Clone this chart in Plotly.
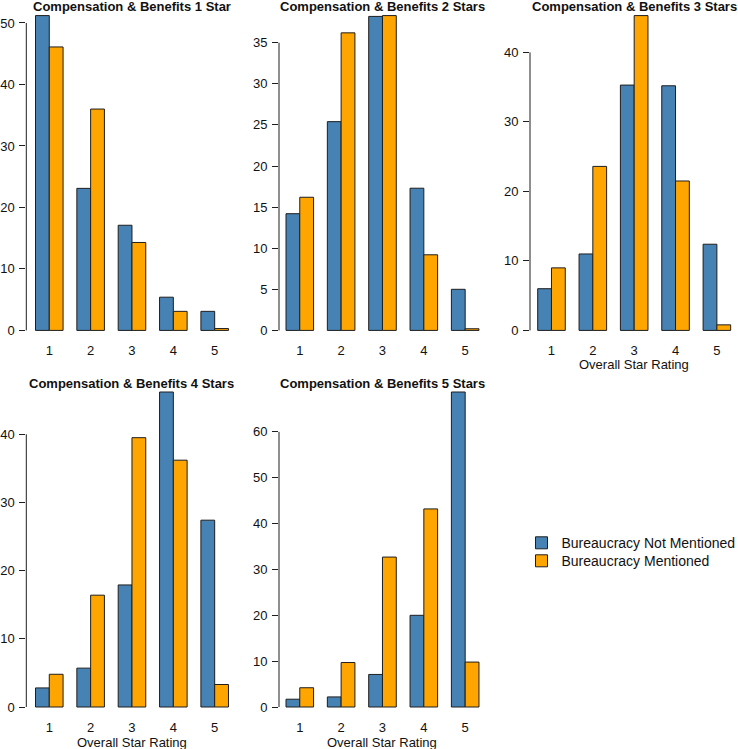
import plotly.graph_objects as go

# ---------------- data ----------------
ratings = [1, 2, 3, 4, 5]
tick_labels = ["1", "2", "3", "4", "5"]
panel_titles = [
    "Compensation & Benefits 1 Star",
    "Compensation & Benefits 2 Stars",
    "Compensation & Benefits 3 Stars",
    "Compensation & Benefits 4 Stars",
    "Compensation & Benefits 5 Stars",
]
not_mentioned = [
    [51.2, 23.1, 17.1, 5.4, 3.1],
    [14.2, 25.4, 38.2, 17.3, 5.0],
    [6.0, 11.0, 35.3, 35.2, 12.4],
    [2.8, 5.7, 17.9, 46.2, 27.4],
    [1.7, 2.2, 7.1, 20.0, 68.7],
]
mentioned = [
    [46.1, 36.0, 14.3, 3.1, 0.3],
    [16.2, 36.2, 38.3, 9.2, 0.2],
    [9.0, 23.6, 45.3, 21.5, 0.8],
    [4.8, 16.4, 39.5, 36.2, 3.3],
    [4.2, 9.7, 32.7, 43.2, 9.8],
]
y_tick_step = [10, 5, 10, 10, 10]
y_tick_top = [50, 35, 40, 40, 60]
series_names = ["Bureaucracy Not Mentioned", "Bureaucracy Mentioned"]
xlabel = "Overall Star Rating"

# ---------------- layout geometry (pixels) ----------------
W, H = 738, 749
BLUE = "#4682B4"
ORANGE = "#FFA500"
EDGE = "#1e1e1e"
FONT = "Liberation Sans, Arial, sans-serif"
TXT = "#111111"
PPU = 41.35  # pixels per category unit

# (axis px left, first bar px left, row top px, row bottom px)
panels_geom = [
    (26.3, 35.5, 3.0, 343.0),
    (279.0, 286.0, 3.0, 343.0),
    (530.0, 537.7, 3.0, 343.0),
    (26.3, 35.5, 379.4, 719.6),
    (279.0, 286.0, 379.4, 719.6),
]
title_y_px = [6.3, 6.3, 6.3, 383.3, 383.3]
xlab_y_px = [None, None, 364.3, 741.7, 741.7]
legend_tops_px = [527.2, 545.2]

fig = go.Figure()
layout = dict(
    width=W, height=H,
    margin=dict(l=0, r=0, t=0, b=0, autoexpand=False),
    paper_bgcolor="white", plot_bgcolor="white",
    barmode="group", bargap=1/3, bargroupgap=0,
    showlegend=True,
    font=dict(family=FONT, size=13, color=TXT),
)
annotations = []
shapes = []
legend_ids = ["legend", "legend2"]

for i in range(5):
    sfx = "" if i == 0 else str(i + 1)
    xa, ya = "x" + sfx, "y" + sfx
    ax_px, bar_px, top_px, bot_px = panels_geom[i]
    width_px = min(209.0, W - ax_px)
    x0 = (1 - 1/3) - (bar_px - ax_px) / PPU
    x1 = x0 + width_px / PPU
    ymax = max(max(not_mentioned[i]), max(mentioned[i]))
    yr = [-0.04 * ymax, 1.04 * ymax]

    for k, (vals, name, col) in enumerate([(not_mentioned[i], series_names[0], BLUE),
                                           (mentioned[i], series_names[1], ORANGE)]):
        fig.add_trace(go.Bar(
            x=ratings, y=vals, name=name, xaxis=xa, yaxis=ya,
            marker=dict(color=col, line=dict(color=EDGE, width=1)),
            legendgroup=name, showlegend=(i == 0), legend=legend_ids[k],
            offsetgroup=name,
        ))

    layout["xaxis" + sfx] = dict(
        domain=[ax_px / W, (ax_px + width_px) / W], range=[x0, x1],
        anchor=ya, showgrid=False, zeroline=False, showline=False,
        tickmode="array", tickvals=ratings, ticktext=tick_labels,
        ticks="", tickfont=dict(size=13, color=TXT, family=FONT),
        ticklabelstandoff=-2, fixedrange=True, automargin=False,
    )
    tv = list(range(0, y_tick_top[i] + 1, y_tick_step[i]))
    layout["yaxis" + sfx] = dict(
        domain=[1 - bot_px / H, 1 - top_px / H], range=yr,
        anchor=xa, showgrid=False, zeroline=False, showline=False,
        tickmode="array", tickvals=tv, ticktext=[str(v) for v in tv],
        ticks="outside", ticklen=6, tickwidth=1, tickcolor=EDGE,
        tickfont=dict(size=13, color=TXT, family=FONT),
        ticklabelstandoff=2, fixedrange=True, automargin=False,
    )
    shapes.append(dict(type="line", xref=xa + " domain", yref=ya,
                       x0=0, x1=0, y0=0, y1=tv[-1],
                       line=dict(color=EDGE, width=1)))
    annotations.append(dict(
        text="<b>" + panel_titles[i] + "</b>", xref=xa, x=3,
        yref="paper", y=1 - (title_y_px[i] + 0.5) / H,
        xanchor="center", yanchor="middle", showarrow=False,
        font=dict(size=13, color=TXT, family=FONT),
    ))
    if xlab_y_px[i] is not None:
        annotations.append(dict(
            text=xlabel, xref=xa, x=3,
            yref="paper", y=1 - (xlab_y_px[i] + 0.5) / H,
            xanchor="center", yanchor="middle", showarrow=False,
            font=dict(size=13, color=TXT, family=FONT),
        ))

layout["annotations"] = annotations
layout["shapes"] = shapes
for lid, top in zip(legend_ids, legend_tops_px):
    layout[lid] = dict(
        x=521.5 / W, y=1 - top / H, xanchor="left", yanchor="top",
        font=dict(size=14, color=TXT, family=FONT),
        bgcolor="rgba(0,0,0,0)", borderwidth=0, tracegroupgap=0,
    )
fig.update_layout(**layout)
fig.write_html("out.html")
